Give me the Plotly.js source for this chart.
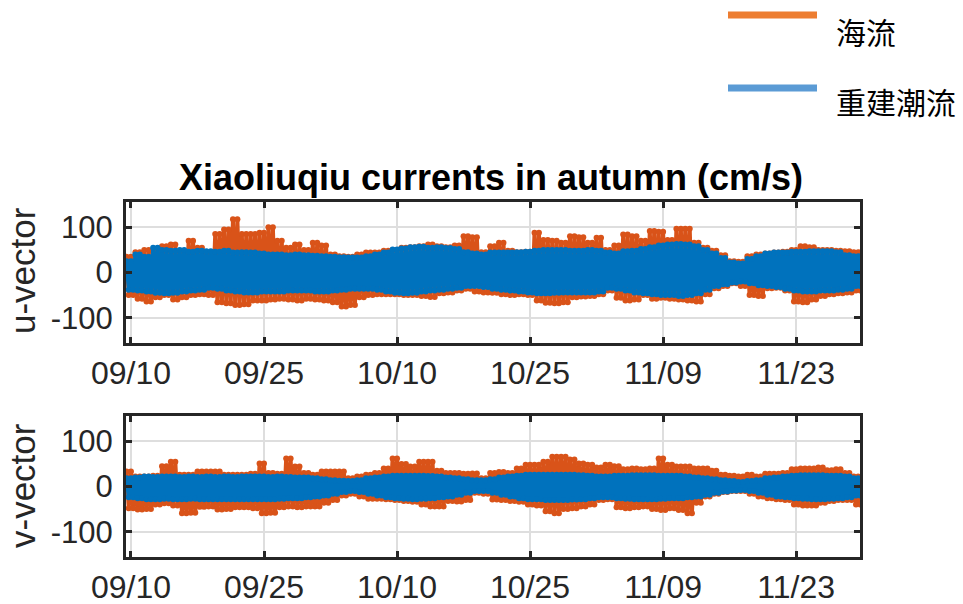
<!DOCTYPE html>
<html>
<head>
<meta charset="utf-8">
<script src="https://cdn.plot.ly/plotly-3.0.1.min.js"></script>
<style>html,body{margin:0;padding:0;background:#fff;}#chart{width:963px;height:604px;}</style>
</head>
<body>
<div id="chart"></div>
<script>
// Day index 0 = 09/10 ; values are daily high / low envelope (cm/s)
const tickDays = [0, 15, 30, 45, 60, 75];
const tickLabels = ['09/10', '09/25', '10/10', '10/25', '11/09', '11/23'];
const seriesNames = ['海流', '重建潮流'];
const panelLabels = ['u-vector', 'v-vector'];
const chartTitle = 'Xiaoliuqiu currents in autumn (cm/s)';

// u-vector, observed current (海流)
const uObsHigh = [35,45,50,45,58,62,45,70,55,40,85,95,118,85,85,88,100,70,55,62,50,66,60,40,36,35,40,44,44,48,50,55,56,58,62,58,56,60,80,78,45,58,66,48,45,46,88,72,70,66,80,78,66,77,50,60,84,80,70,92,90,72,97,97,66,55,48,38,25,24,36,40,42,44,46,50,58,56,50,50,48,47,45];
const uObsLow = [-50,-58,-64,-55,-50,-60,-55,-50,-48,-50,-66,-68,-72,-70,-62,-62,-60,-58,-60,-62,-58,-60,-62,-66,-75,-72,-55,-50,-48,-48,-48,-50,-50,-52,-54,-46,-44,-40,-36,-42,-44,-45,-48,-50,-48,-50,-62,-67,-68,-66,-55,-53,-52,-48,-40,-56,-62,-60,-50,-58,-56,-58,-60,-62,-64,-48,-35,-30,-24,-30,-50,-52,-35,-34,-40,-64,-66,-60,-52,-48,-46,-44,-40];
// u-vector, reconstructed tidal current (重建潮流)
const uTideHigh = [25,40,35,55,50,48,50,46,48,47,46,48,44,45,44,42,40,40,38,40,38,37,36,35,34,33,33,36,40,44,51,53,56,57,55,56,54,52,45,42,40,44,44,44,45,46,48,50,50,50,48,48,50,48,44,42,47,48,52,56,60,62,63,62,58,50,42,32,22,20,30,36,42,44,44,46,46,47,47,47,45,38,36];
const uTideLow = [-38,-40,-42,-45,-46,-45,-42,-40,-38,-34,-36,-40,-42,-44,-44,-42,-42,-42,-40,-40,-40,-42,-42,-40,-38,-36,-36,-36,-38,-42,-45,-46,-45,-42,-40,-38,-36,-34,-30,-30,-32,-36,-38,-40,-42,-44,-46,-46,-45,-44,-44,-44,-44,-42,-34,-36,-40,-44,-46,-48,-50,-50,-52,-50,-46,-38,-30,-26,-22,-20,-24,-28,-30,-32,-36,-40,-42,-42,-40,-40,-38,-36,-30];

// v-vector, observed current (海流)
const vObsHigh = [33,22,22,24,45,55,26,26,33,33,33,26,26,26,28,51,30,28,62,44,30,26,33,33,33,18,22,26,30,40,62,50,44,55,55,35,30,30,28,29,18,30,32,30,40,48,48,55,66,66,60,51,48,42,48,45,38,40,38,40,62,48,44,44,40,40,35,26,24,22,26,22,28,28,30,38,40,40,42,36,38,30,22];
const vObsLow = [-48,-51,-50,-40,-37,-42,-59,-58,-45,-44,-51,-50,-46,-46,-48,-59,-58,-46,-44,-46,-44,-44,-36,-30,-20,-16,-22,-27,-27,-28,-30,-32,-34,-40,-44,-44,-32,-33,-30,-14,-16,-29,-30,-32,-34,-40,-42,-55,-59,-50,-48,-44,-40,-30,-28,-46,-48,-46,-44,-50,-52,-48,-52,-59,-36,-22,-16,-12,-10,-10,-16,-22,-26,-28,-30,-40,-42,-42,-36,-32,-30,-30,-40];
// v-vector, reconstructed tidal current (重建潮流)
const vTideHigh = [18,20,22,21,22,22,21,22,21,22,21,22,21,22,22,22,21,22,21,20,20,18,16,14,13,12,14,18,20,22,24,24,24,24,23,22,20,18,16,14,14,16,20,22,24,26,26,26,26,26,26,25,24,22,22,24,24,25,25,25,24,24,24,22,20,18,16,14,12,10,12,14,18,20,22,24,25,25,25,24,24,22,18];
const vTideLow = [-24,-26,-28,-28,-27,-28,-28,-27,-28,-28,-28,-28,-28,-28,-28,-28,-28,-27,-26,-26,-24,-22,-20,-16,-12,-10,-12,-16,-20,-24,-26,-27,-28,-27,-26,-24,-22,-18,-14,-10,-10,-14,-18,-22,-26,-28,-28,-30,-30,-30,-29,-28,-26,-24,-24,-26,-27,-28,-28,-28,-27,-26,-26,-24,-22,-18,-14,-11,-9,-8,-10,-14,-18,-22,-24,-26,-27,-28,-28,-27,-26,-24,-20];

const obsColor = '#D95319';
const tideColor = '#0072BD';
const legendObsColor = '#ED7D31';
const legendTideColor = '#5B9BD5';

// Semi-diurnal oscillation between each day's high and low readings (two tides per day)
function oscillation(high, low) {
  const x = [], y = [];
  for (let i = 0; i < high.length; i++) {
    x.push(i - 0.5); y.push(high[i]);
    x.push(i - 0.25); y.push(low[i]);
    x.push(i); y.push(high[i]);
    x.push(i + 0.25); y.push(low[i]);
  }
  return {x, y};
}

function trace(high, low, color, name, xa, ya) {
  const o = oscillation(high, low);
  return {x: o.x, y: o.y, type: 'scatter', mode: 'lines+markers', name: name,
    line: {color: color, width: 4}, marker: {color: color, size: 6, line: {width: 0}},
    xaxis: xa, yaxis: ya, showlegend: false, hoverinfo: 'skip', cliponaxis: true};
}

const data = [
  trace(uObsHigh, uObsLow, obsColor, seriesNames[0], 'x', 'y'),
  trace(uTideHigh, uTideLow, tideColor, seriesNames[1], 'x', 'y'),
  trace(vObsHigh, vObsLow, obsColor, seriesNames[0], 'x2', 'y2'),
  trace(vTideHigh, vTideLow, tideColor, seriesNames[1], 'x2', 'y2')
];

const W = 963, H = 604;
const px = v => v / W;
const py = v => 1 - v / H;
const axisCol = '#262626';
const xdom = [px(126), px(860)];
const fam = 'Liberation Sans, Arial, sans-serif';

function xAxis(anchor) {
  return {domain: xdom, anchor: anchor, range: [-0.56, 82.2],
    tickmode: 'array', tickvals: tickDays, ticktext: tickLabels,
    showgrid: true, gridcolor: '#dedede', gridwidth: 2,
    zeroline: false, showline: true, linecolor: axisCol, linewidth: 3,
    mirror: 'ticks', ticks: 'inside', ticklen: 6, tickwidth: 3, tickcolor: axisCol,
    tickfont: {family: fam, size: 32, color: axisCol},
    ticklabelstandoff: 0};
}
function yAxis(anchor, top, bottom) {
  return {domain: [py(bottom), py(top)], anchor: anchor, range: [-156, 156],
    tickmode: 'array', tickvals: [-100, 0, 100], ticktext: ['-100', '0', '100'],
    showgrid: true, gridcolor: '#dedede', gridwidth: 2,
    zeroline: false, showline: true, linecolor: axisCol, linewidth: 3,
    mirror: 'ticks', ticks: 'inside', ticklen: 6, tickwidth: 3, tickcolor: axisCol,
    tickfont: {family: fam, size: 31, color: axisCol},
    ticklabelstandoff: 4};
}

const layout = {
  width: W, height: H, autosize: false,
  margin: {l: 0, r: 0, t: 0, b: 0},
  paper_bgcolor: '#fff', plot_bgcolor: '#fff',
  showlegend: false,
  xaxis: xAxis('y'), yaxis: yAxis('x', 202, 343),
  xaxis2: xAxis('y2'), yaxis2: yAxis('x2', 416, 557),
  shapes: [
    {type: 'line', xref: 'paper', yref: 'paper', x0: px(728), x1: px(817), y0: py(15), y1: py(15),
     line: {color: legendObsColor, width: 7}},
    {type: 'line', xref: 'paper', yref: 'paper', x0: px(728), x1: px(817), y0: py(88), y1: py(88),
     line: {color: legendTideColor, width: 7}}
  ],
  annotations: [
    {text: '<b>' + chartTitle + '</b>', xref: 'paper', yref: 'paper', x: px(491), y: py(177),
     xanchor: 'center', yanchor: 'middle', showarrow: false,
     font: {family: fam, size: 36, color: '#000'}},
    {text: panelLabels[0], xref: 'paper', yref: 'paper', x: px(22), y: py(271), textangle: -90,
     xanchor: 'center', yanchor: 'middle', showarrow: false,
     font: {family: fam, size: 35, color: axisCol}},
    {text: panelLabels[1], xref: 'paper', yref: 'paper', x: px(22), y: py(486), textangle: -90,
     xanchor: 'center', yanchor: 'middle', showarrow: false,
     font: {family: fam, size: 35, color: axisCol}},
    {text: seriesNames[0], xref: 'paper', yref: 'paper', x: px(834), y: py(31),
     xanchor: 'left', yanchor: 'middle', showarrow: false,
     font: {family: 'Noto Sans CJK TC, Noto Sans CJK SC, sans-serif', size: 30, color: '#000'}},
    {text: seriesNames[1], xref: 'paper', yref: 'paper', x: px(834), y: py(101),
     xanchor: 'left', yanchor: 'middle', showarrow: false,
     font: {family: 'Noto Sans CJK TC, Noto Sans CJK SC, sans-serif', size: 30, color: '#000'}}
  ]
};

Plotly.newPlot('chart', data, layout, {staticPlot: true, displayModeBar: false});
</script>
</body>
</html>
